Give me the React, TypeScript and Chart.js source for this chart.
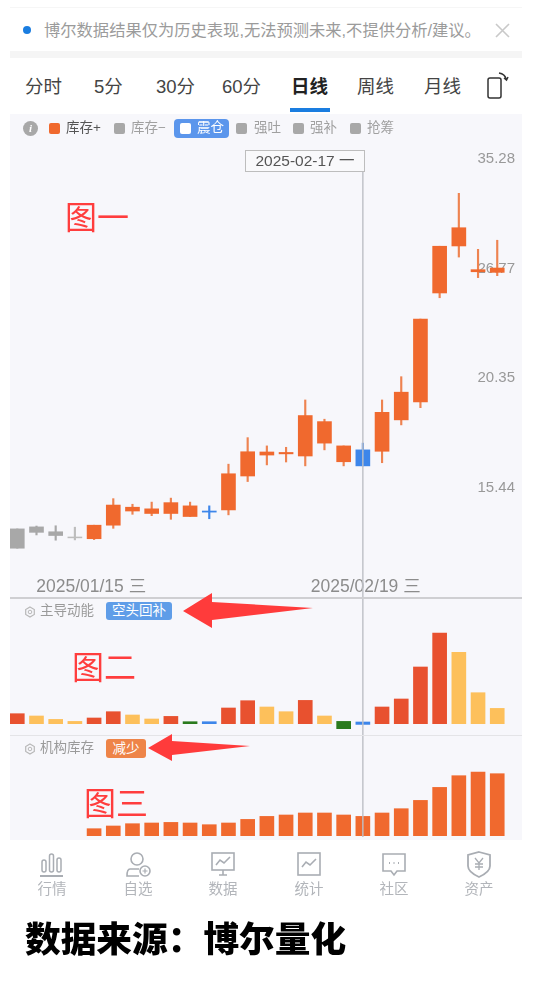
import React, { useEffect, useRef } from "react";
import { Chart, registerables } from "chart.js";

Chart.register(...registerables);

// ---------- data ----------
const open_ = [13.93, 14.0, 13.83, 13.65, 14.06, 14.79, 14.71, 14.65, 14.88, 14.76, 14.57, 16.0, 16.91, 16.9, 16.88, 18.52, 18.24, 17.16, 16.99, 18.67, 19.64, 23.6, 28.34, 29.69, 26.72, 26.83];
const close_ = [13.27, 13.81, 13.7, 13.62, 13.59, 14.06, 14.57, 14.48, 14.48, 14.37, 14.53, 14.61, 15.91, 16.77, 16.82, 16.73, 17.28, 16.49, 16.32, 16.93, 18.32, 19.16, 25.2, 28.36, 26.58, 26.54];
const high_ = [13.93, 14.03, 14.04, 13.99, 14.06, 15.03, 14.82, 14.9, 15.05, 14.9, 14.76, 16.39, 17.52, 17.16, 17.1, 19.26, 18.35, 17.16, 17.28, 19.26, 20.42, 23.6, 28.34, 32.37, 28.12, 28.77];
const low_ = [13.27, 13.72, 13.54, 13.55, 13.56, 13.95, 14.45, 14.4, 14.27, 14.37, 14.29, 14.43, 15.69, 16.36, 16.48, 16.32, 16.99, 16.32, 16.32, 16.45, 18.09, 18.89, 24.9, 27.58, 26.19, 26.32];
const candleKinds = ["gray", "gray", "gray", "lightGray", "orange", "orange", "orange", "orange", "orange", "orange", "blue", "orange", "orange", "orange", "orange", "orange", "orange", "orange", "blue", "orange", "orange", "orange", "orange", "orange", "orange", "orange"];

const priceTicks = [15.44, 20.35, 26.77, 35.28];
const dateTickLabels = ["2025/01/15 三", "2025/02/19 三"];
const dateTickSlots = [3.85, 18.15];
const selectedSlot = 18;

const momentumHigh = [10, 7.7, 4.3, 2.3, 5.7, 12, 8.7, 4.7, 7.3, 2, 2, 15.7, 23, 16.7, 12, 23.3, 7.7, 2.3, 1.7, 16.7, 24.7, 56.7, 90.7, 71.3, 31, 15.3];
const momentumLow = [0, 0, 0, 0, 0, 0, 0, 0, 0, 0, 0, 0, 0, 0, 0, 0, 0, -5, -0.7, 0, 0, 0, 0, 0, 0, 0];
const momentumKinds = ["red", "yellow", "yellow", "yellow", "red", "red", "yellow", "yellow", "red", "green", "blue", "red", "red", "yellow", "yellow", "red", "yellow", "green", "blue", "red", "red", "red", "red", "yellow", "yellow", "yellow"];

const inventory = [null, null, null, null, 7, 9.7, 12, 12.7, 13.3, 12.7, 11, 12.7, 16.3, 19.3, 20.7, 22.7, 22.7, 20.7, 19.3, 22.7, 27, 35.3, 48.3, 60, 63.7, 62];

const palette: Record<string, string> = {
  orange: "#f0692e",
  red: "#e8512f",
  yellow: "#fdc05b",
  green: "#2a7a1d",
  blue: "#3d86ea",
  gray: "#a8a8a8",
  lightGray: "#bdbdbd",
};
const wickPalette: Record<string, string> = { ...palette, orange: "#ee8350" };

const FONT = '"Liberation Sans", "Noto Sans CJK SC", sans-serif';
const X_MIN = -0.38;
const X_MAX = 26.29;

const crosshair = {
  id: "crosshair",
  afterDatasetsDraw(chart: any, _a: any, opts: any) {
    const { ctx, chartArea, scales } = chart;
    const x = scales.x.getPixelForValue(selectedSlot);
    ctx.save();
    ctx.strokeStyle = "rgba(190,192,198,0.95)";
    ctx.lineWidth = 1.5;
    ctx.beginPath();
    ctx.moveTo(x, chartArea.top + (opts.top || 0));
    ctx.lineTo(x, opts.bottom ?? chart.height);
    ctx.stroke();
    ctx.restore();
  },
};

const noPadding = (s: any) => {
  s.paddingTop = 0;
  s.paddingBottom = 0;
  s.paddingLeft = 0;
  s.paddingRight = 0;
};

const xScale = (extra: any = {}) => ({
  type: "linear",
  min: X_MIN,
  max: X_MAX,
  offset: false,
  display: false,
  grid: { display: false, offset: false },
  ...extra,
});

const baseOptions = {
  animation: false,
  responsive: false,
  maintainAspectRatio: false,
  layout: { padding: 0, autoPadding: false },
  plugins: { legend: { display: false }, tooltip: { enabled: false } },
};

function useChart(make: () => any) {
  const ref = useRef<HTMLCanvasElement>(null);
  useEffect(() => {
    const chart = new Chart(ref.current as HTMLCanvasElement, make());
    return () => chart.destroy();
  }, []);
  return ref;
}

const pos = (left: number, top: number, extra: any = {}) => ({ position: "absolute", left, top, whiteSpace: "nowrap", ...extra }) as React.CSSProperties;

function Label({ x, y, size, color, text, weight }: { x: number; y: number; size: number; color: string; text: string; weight?: number }) {
  return (
    <div style={pos(x, y - size * 0.75, { fontSize: size, lineHeight: `${size * 1.5}px`, color, fontWeight: weight ?? 400 })}>{text}</div>
  );
}

const Square = ({ x, color }: { x: number; color: string }) => (
  <div style={pos(x, 123, { width: 11, height: 11, borderRadius: 2, background: color })} />
);

function Gear({ x, y }: { x: number; y: number }) {
  return (
    <svg style={pos(x - 6, y - 6)} width={12} height={12} viewBox="0 0 12 12">
      <path d="M6 1 L10.3 3.5 V8.5 L6 11 L1.7 8.5 V3.5 Z" fill="none" stroke="#b8b8b8" strokeWidth={1.2} />
      <circle cx={6} cy={6} r={1.8} fill="none" stroke="#b8b8b8" strokeWidth={1} />
    </svg>
  );
}

const navIcons = [
  <g key="a" fill="none" stroke="#a9adb3" strokeWidth={1.5}>
    <rect x={3} y={9} width={4} height={12} rx={2} />
    <rect x={10.5} y={3} width={4} height={18} rx={2} />
    <rect x={18} y={7} width={4} height={14} rx={2} />
    <path d="M1 25 H24" strokeWidth={2} />
  </g>,
  <g key="b" fill="none" stroke="#a9adb3" strokeWidth={1.6}>
    <circle cx={12} cy={8} r={6} />
    <path d="M14 18 H5 Q2 18 2 25 H14" />
    <circle cx={20} cy={20} r={5} />
    <path d="M20 17.5 V22.5 M17.5 20 H22.5" strokeWidth={1.2} />
  </g>,
  <g key="c" fill="none" stroke="#a9adb3" strokeWidth={1.6}>
    <rect x={2} y={2} width={22} height={17} />
    <path d="M6 14 L10 9 L14 12 L20 6 M9 24 H17 M13 19 V24" />
  </g>,
  <g key="d" fill="none" stroke="#a9adb3" strokeWidth={1.6}>
    <rect x={2} y={2} width={22} height={22} />
    <path d="M6 16 L10 11 L14 14 L20 8" />
  </g>,
  <g key="e" fill="none" stroke="#a9adb3" strokeWidth={1.6}>
    <path d="M2 3 H24 V20 H16 L13 24 L10 20 H2 Z" />
    <path d="M8 12 H9 M12.5 12 H13.5 M17 12 H18" strokeWidth={2} />
  </g>,
  <g key="f" fill="none" stroke="#a9adb3" strokeWidth={1.8}>
    <path d="M13 1 L24 4 V15 Q24 21 13 26 Q2 21 2 15 V4 Z" />
    <path d="M9 7 L13 12 L17 7 M13 12 V19 M9 13 H17 M9 16 H17" strokeWidth={1.3} />
  </g>,
];
const navLabels = ["行情", "自选", "数据", "统计", "社区", "资产"];
const navCenters = [52, 138, 223, 309, 394, 479];
const tabLabels = ["分时", "5分", "30分", "60分", "日线", "周线", "月线"];
const tabLefts = [25, 94, 156, 222, 291, 357, 424];
const legendLabels = ["库存+", "库存−", "震仓", "强吐", "强补", "抢筹"];

export default function App() {
  const mainRef = useChart(() => ({
    type: "bar",
    data: {
      datasets: [
        {
          data: high_.map((h, i) => ({ x: i, y: [low_[i], h] })),
          backgroundColor: candleKinds.map((k) => wickPalette[k]),
          barThickness: 1.5,
          grouped: false,
          order: 2,
        },
        {
          data: open_.map((o, i) => ({ x: i, y: [close_[i], o] })),
          backgroundColor: candleKinds.map((k) => palette[k]),
          borderWidth: 0,
          barThickness: 14,
          grouped: false,
          order: 1,
        },
      ],
    },
    options: {
      ...baseOptions,
      plugins: { ...baseOptions.plugins, crosshair: { top: 59 } },
      scales: {
        x: xScale({
          display: true,
          position: "bottom",
          border: { display: false },
          afterBuildTicks: (s: any) => {
            s.ticks = dateTickSlots.map((value) => ({ value }));
          },
          afterFit: (s: any) => {
            s.height = 26;
            noPadding(s);
          },
          grid: { display: false, drawTicks: false, offset: false },
          ticks: {
            autoSkip: false,
            maxRotation: 0,
            padding: 5,
            color: "#8c8c8c",
            font: { family: FONT, size: 17.5 },
            callback: (v: number) => dateTickLabels[dateTickSlots.indexOf(v)],
          },
        }),
        y: {
          type: "logarithmic",
          position: "right",
          min: 12.5,
          max: 39.61,
          grid: { display: false },
          border: { display: false },
          afterBuildTicks: (s: any) => {
            s.ticks = priceTicks.map((value) => ({ value }));
          },
          afterFit: (s: any) => {
            s.width = 0;
            noPadding(s);
          },
          ticks: {
            mirror: true,
            padding: -7,
            color: "#999999",
            font: { family: FONT, size: 15 },
            callback: (v: number) => v.toFixed(2),
          },
        },
      },
    },
    plugins: [crosshair],
  }));

  const momentumRef = useChart(() => ({
    type: "bar",
    data: {
      datasets: [
        {
          data: momentumHigh.map((h, i) => ({ x: i, y: [momentumLow[i], h] })),
          backgroundColor: momentumKinds.map((k) => palette[k]),
          borderWidth: 0,
          barThickness: 14,
        },
      ],
    },
    options: {
      ...baseOptions,
      scales: {
        x: xScale(),
        y: { type: "linear", display: false, min: -11.3, max: 125.7 },
      },
    },
    plugins: [crosshair],
  }));

  const inventoryRef = useChart(() => ({
    type: "bar",
    data: {
      datasets: [
        {
          data: inventory.map((y, i) => ({ x: i, y })),
          backgroundColor: palette.orange,
          borderWidth: 0,
          barThickness: 14,
        },
      ],
    },
    options: {
      ...baseOptions,
      plugins: { ...baseOptions.plugins, crosshair: { bottom: 101 } },
      scales: {
        x: xScale(),
        y: { type: "linear", display: false, min: -4.3, max: 99.7 },
      },
    },
    plugins: [crosshair],
  }));

  return (
    <div style={pos(0, 0, { width: 534, height: 982, overflow: "hidden", background: "#fff", fontFamily: FONT })}>
      {/* top notice */}
      <div style={pos(10, 7, { width: 512, height: 1, background: "#f6f6f6" })} />
      <div style={pos(23, 26, { width: 8, height: 8, borderRadius: 4, background: "#1a7de0" })} />
      <Label x={44} y={30} size={16.3} color="#9b9b9b" text="博尔数据结果仅为历史表现,无法预测未来,不提供分析/建议。" />
      <svg style={pos(495, 23)} width={15} height={15}>
        <path d="M1 1 L14 14 M14 1 L1 14" stroke="#c9c9c9" strokeWidth={1.6} />
      </svg>
      <div style={pos(10, 51, { width: 512, height: 7, background: "#f5f5f5" })} />

      {/* tabs */}
      {tabLabels.map((t, i) => (
        <Label key={t} x={tabLefts[i]} y={87} size={18.5} color={i === 4 ? "#222" : "#444"} weight={i === 4 ? 700 : 400} text={t} />
      ))}
      <div style={pos(290, 108, { width: 40, height: 4, background: "#1a7de0" })} />
      <svg style={pos(486, 72)} width={24} height={28} viewBox="0 0 24 28" fill="none" stroke="#333" strokeWidth={1.5}>
        <rect x={2} y={6} width={13} height={20} rx={2} />
        <path d="M13 1 Q19 2 20 7 M18 6 L20.5 8 L22 5" />
      </svg>

      {/* panels */}
      <div style={pos(10, 114, { width: 512, height: 726, background: "#f7f7fb" })} />
      <canvas ref={mainRef} width={512} height={485} style={pos(10, 113, { display: "block" })} />
      <canvas ref={momentumRef} width={512} height={137} style={pos(10, 598, { display: "block" })} />
      <canvas ref={inventoryRef} width={512} height={104} style={pos(10, 736, { display: "block" })} />
      <div style={pos(10, 597, { width: 512, height: 1.5, background: "#cfcfd2" })} />
      <div style={pos(10, 735, { width: 512, height: 1, background: "#e4e4e7" })} />

      {/* legend row */}
      <div style={pos(23, 121, { width: 15, height: 15, borderRadius: 8, background: "#a8a8a8", color: "#fff", fontSize: 11, fontStyle: "italic", fontWeight: 700, textAlign: "center", lineHeight: "15px", fontFamily: "Liberation Serif" })}>i</div>
      <Square x={49} color={palette.orange} />
      <Label x={66} y={128} size={13.5} color="#555" text={legendLabels[0]} />
      <Square x={114} color="#a8a8a8" />
      <Label x={131} y={128} size={13.5} color="#a0a0a0" text={legendLabels[1]} />
      <div style={pos(174, 119, { width: 55, height: 19, borderRadius: 4, background: "#5b96ec" })} />
      <div style={pos(180, 123, { width: 11, height: 11, borderRadius: 2, background: "#fff" })} />
      <Label x={197} y={128} size={13.5} color="#fff" text={legendLabels[2]} />
      <Square x={236} color="#a8a8a8" />
      <Label x={254} y={128} size={13.5} color="#a0a0a0" text={legendLabels[3]} />
      <Square x={293} color="#a8a8a8" />
      <Label x={310} y={128} size={13.5} color="#a0a0a0" text={legendLabels[4]} />
      <Square x={350} color="#a8a8a8" />
      <Label x={367} y={128} size={13.5} color="#a0a0a0" text={legendLabels[5]} />

      {/* date box */}
      <div style={pos(245, 150, { width: 118, height: 20, border: "1px solid #bdbdbd", background: "#f9f9fb", textAlign: "center", fontSize: 15.5, lineHeight: "20px", color: "#555" })}>2025-02-17 一</div>

      {/* panel titles */}
      <Gear x={30} y={612} />
      <Label x={40} y={611} size={13.5} color="#9a9a9a" text="主导动能" />
      <div style={pos(106, 602, { width: 66, height: 18, borderRadius: 3, background: "#5f9de8", color: "#fff", fontSize: 13.5, lineHeight: "18px", textAlign: "center" })}>空头回补</div>
      <Gear x={30} y={749} />
      <Label x={40} y={748} size={13.5} color="#9a9a9a" text="机构库存" />
      <div style={pos(106, 739, { width: 40, height: 19, borderRadius: 3, background: "#ee8448", color: "#fff", fontSize: 13.5, lineHeight: "19px", textAlign: "center" })}>减少</div>

      {/* annotations */}
      <Label x={65} y={218} size={32} color="#ff3d3d" text="图一" />
      <Label x={72} y={668} size={32} color="#ff3d3d" text="图二" />
      <Label x={84} y={804} size={32} color="#ff3d3d" text="图三" />
      <svg style={pos(0, 0)} width={534} height={982}>
        <path d="M183 611 L212 593 L212 602 L313 608 L212 620 L212 628 Z" fill="#ff3b3b" />
        <path d="M148 748 L172 734 L172 741 L250 746 L172 755 L172 761 Z" fill="#ff3b3b" />
      </svg>

      {/* bottom nav */}
      {navLabels.map((t, i) => (
        <React.Fragment key={t}>
          <svg style={pos(navCenters[i] - 13, 851)} width={27} height={27} viewBox="0 0 27 27">
            {navIcons[i]}
          </svg>
          <Label x={navCenters[i] - 14.5} y={890} size={14.5} color="#b2b5ba" text={t} />
        </React.Fragment>
      ))}

      {/* source */}
      <Label x={25} y={941} size={35.7} color="#000" weight={900} text="数据来源：博尔量化" />
    </div>
  );
}
